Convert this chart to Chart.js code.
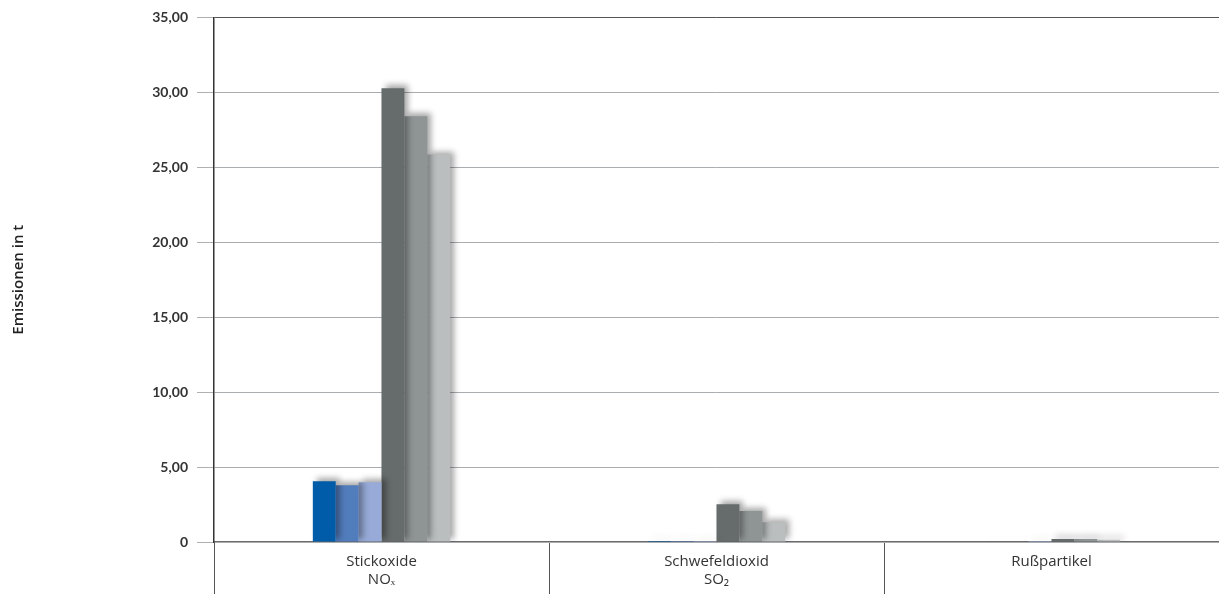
<!DOCTYPE html>
<html>
<head>
<meta charset="utf-8">
<script src="https://cdn.jsdelivr.net/npm/chart.js@4/dist/chart.umd.min.js"></script>
<style>
    body { margin: 0; background: #fff; }
    #wrap { width: 1219px; height: 594px; position: relative; }
</style>
</head>
<body>
<div id="wrap"><canvas id="myChart"></canvas></div>
<script>
const categories = [['Stickoxide', 'NOₓ'], ['Schwefeldioxid', 'SO₂'], ['Rußpartikel']];
const seriesNames = ['Reihe 1', 'Reihe 2', 'Reihe 3', 'Reihe 4', 'Reihe 5', 'Reihe 6'];
const serie1 = [4.05, 0.06, 0.04];
const serie2 = [3.78, 0.06, 0.04];
const serie3 = [3.98, 0.06, 0.06];
const serie4 = [30.28, 2.52, 0.20];
const serie5 = [28.40, 2.06, 0.20];
const serie6 = [25.85, 1.31, 0.15];
const colors = ['#005ba9', '#527dbd', '#97aad8', '#666b6b', '#8f9494', '#babebe'];

const allSeries = [serie1, serie2, serie3, serie4, serie5, serie6];

// schatten wie im original
const shadowPlugin = {
    id: 'barShadow',
    beforeDatasetsDraw(chart) {
        const ctx = chart.ctx;
        ctx.save();
        ctx.shadowColor = 'rgba(0,0,0,0.35)';
        ctx.shadowBlur = 6;
        ctx.shadowOffsetX = 4;
        ctx.shadowOffsetY = -3;
    },
    afterDatasetsDraw(chart) {
        chart.ctx.restore();
    }
};

const datasets = allSeries.map((values, i) => ({
    label: seriesNames[i],
    data: values,
    backgroundColor: colors[i],
    borderWidth: 0
}));

const ctx = document.getElementById('myChart').getContext('2d');
const myChart = new Chart(ctx, {
    type: 'bar',
    data: { labels: categories, datasets: datasets },
    options: {
        responsive: true,
        maintainAspectRatio: false,
        animation: false,
        layout: { padding: { top: 15, right: 0, bottom: 0, left: 0 } },
        categoryPercentage: 0.41,
        barPercentage: 1,
        plugins: {
            legend: { display: false },
            tooltip: { enabled: false }
        },
        scales: {
            x: {
                offset: true,
                grid: {
                    offset: true,
                    drawOnChartArea: false,
                    color: '#555',
                    tickColor: '#555',
                    tickLength: 52,
                    lineWidth: 1
                },
                border: { color: '#6b6b6b', width: 2, z: -1 },
                ticks: {
                    padding: -41,
                    color: '#333',
                    font: { family: 'Open Sans', size: 15 }
                },
                afterFit: (scale) => { scale.height = 52; }
            },
            y: {
                min: 0,
                max: 35,
                ticks: {
                    stepSize: 5,
                    padding: 9,
                    color: '#333',
                    font: { family: 'Lato', size: 14, weight: 'bold' },
                    callback: (v) => v === 0 ? '0' : v.toFixed(2).replace('.', ',')
                },
                grid: {
                    color: (c) => c.tick && c.tick.value === 35 ? '#555' : '#a9adb0',
                    tickColor: '#b0b0b0',
                    tickLength: 17,
                    lineWidth: 1
                },
                border: { color: '#333', width: 1.5 },
                title: {
                    display: true,
                    text: 'Emissionen in t',
                    color: '#222',
                    font: { family: 'Open Sans', size: 15, weight: '600' },
                    padding: { top: 10, bottom: 0 }
                },
                afterFit: (scale) => { scale.width = 214; }
            }
        }
    },
    plugins: [shadowPlugin]
});
</script>
</body>
</html>
